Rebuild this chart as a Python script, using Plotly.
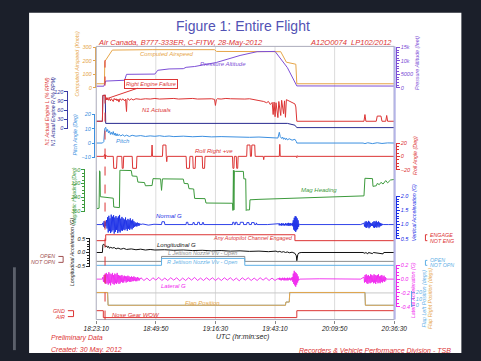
import plotly.graph_objects as go

W, H = 481, 361
FONT = "Liberation Sans, Arial, sans-serif"

# ------------------------------------------------------------------ data
# time axis: seconds elapsed after 18:23:10 UTC
tick_seconds = [0, 1600, 3200, 4800, 6400, 8000]
tick_labels = ["18:23:10", "18:49:50", "19:16:30", "19:43:10", "20:09:50", "20:36:30"]
engine_failure_s = 236

# computed airspeed (knots)
cas_t = [0, 220, 229, 254, 432, 1500, 3175, 3230, 4953, 5105, 5359, 5385, 8000]
cas_kt = [30, 30, 195, 205, 280, 283, 283, 270, 268, 190, 175, 30, 30]

# pressure altitude (feet)
alt_t = [0, 203, 229, 254, 762, 813, 1575, 1651, 1956, 2337, 2413, 2642, 3226, 3861, 4318, 4801, 5131, 5385, 8000]
alt_ft = [600, 600, 1500, 2500, 2800, 5000, 5100, 6500, 7000, 7100, 7600, 7900, 9400, 12000, 13400, 13500, 7500, 700, 650]

# N1, left engine (% RPM)
n1l_t = [0, 165, 178, 241, 254, 279, 305, 330, 356, 381, 406, 432, 457, 483, 508, 533, 559, 584, 610, 635,
         686, 711, 762, 787, 800, 813, 826, 850, 889, 940, 990, 1067, 1194, 1321, 1448, 1575, 1702, 1829,
         1956, 2083, 2210, 2337, 2464, 2591, 2718, 2845, 2972, 3099, 3175, 3200, 3226, 3251, 3353, 3480,
         3607, 3734, 3861, 3988, 4115, 4242, 4369, 4496, 4572, 4623, 4674, 4724, 4750, 4775, 4801, 4826,
         4877, 4902, 4953, 4978, 5029, 5055, 5080, 5105, 5182, 5258, 5334, 5359, 5385, 7188, 7214, 7239,
         7518, 7544, 7645, 7671, 7772, 7798, 7823, 8000]
n1l_pct = [23, 23, 108, 108, 100, 94, 99, 92, 98, 90, 97, 94, 88, 98, 93, 97, 90, 96, 86, 97,
           92, 97, 90, 96, 62, 55, 94, 98, 92, 97, 93, 97, 95, 97, 96, 98, 96, 97,
           96, 98, 96, 97, 96, 98, 96, 97, 96, 97, 95, 75, 94, 97, 96, 98,
           97, 96, 97, 96, 97, 95, 91, 88, 84, 88, 78, 85, 45, 86, 38, 84,
           35, 88, 42, 92, 48, 90, 36, 94, 90, 86, 80, 70, 23, 23, 45, 23,
           23, 40, 40, 23, 23, 42, 23, 23]

# N1, right engine (% RPM)
n1r_t = [0, 165, 178, 241, 254, 5131, 5334, 5385, 8000]
n1r_pct = [23, 23, 108, 108, 16, 16, 10, 2, 2]

# pitch angle (deg)
pitch_t = [0, 165, 203, 229, 254, 279, 305, 330, 356, 381, 406, 432, 457, 483, 508, 533, 559, 584, 610, 660,
           711, 762, 813, 889, 965, 1067, 1194, 1321, 1448, 1575, 1702, 1829, 1956, 2083, 2337, 2591, 2845,
           3099, 3353, 3607, 3861, 4115, 4369, 4623, 4826, 4877, 4915, 4940, 4978, 5004, 5029, 5055, 5080,
           5105, 5131, 5182, 5258, 5334, 5372, 5385, 7163, 7214, 7290, 7417, 7544, 7671, 7823, 8000]
pitch_deg = [0, 0, 1, 10, 11, 8, 9.5, 7, 8.5, 6, 7.5, 6, 8, 5.5, 7, 5, 6.5, 5, 6, 5,
             5.8, 4.8, 5.5, 4.6, 5.4, 4.8, 5.2, 4.6, 5, 4.7, 5.1, 4.6, 4.9, 4.5, 4.8, 4.4, 4.7,
             4.3, 4.5, 4.2, 4.4, 4.0, 4.2, 3.8, 4.0, 3.5, 7.5, 4.5, 3.2, 4.2, 2.6, 3.6, 2.4,
             3.4, 2.2, 3.0, 2.0, 2.6, 1.0, 0, 0, -0.4, 0.2, -0.4, 0.2, -0.3, 0.1, 0]

# roll angle (deg, right wing down positive)
roll_t = [0, 203, 229, 241, 254, 279,
          457, 470, 545, 559, 686, 698, 724, 737, 965, 978, 1080, 1092,
          1486, 1499, 1511, 1778, 1790, 1870, 1880, 1893, 1905,
          2413, 2425, 2502, 2515, 2591, 2603, 2655, 2667, 2845, 2857, 2908, 2921,
          3658, 3670, 3696, 3709, 3760, 3772, 3797, 3810,
          4039, 4051, 4128, 4140, 4166, 4178, 4255, 4267,
          4483, 4496, 4509, 4915, 4928, 4940, 5372, 5385, 5397, 5410, 8000]
roll_deg = [0, 0, 3, -4, 2, 0,
            0, -18, -18, 0, 0, -18, -18, 0, 0, -18, -18, 0,
            0, 17, 0, 0, 17, 17, 0, -8, 0,
            0, -18, -18, 0, 0, -18, -18, 0, 0, -18, -18, 0,
            0, -18, -18, 0, 0, -18, -18, 0,
            0, 17, 17, 0, 0, 17, 17, 0,
            0, -5, 0, 0, 18, 0, 0, -2, 1, 0, 0]

# magnetic heading (deg)
hdg_t = [0, 13, 76, 89, 102, 109, 203, 229, 457, 470, 622, 635, 940, 965, 1092, 1118, 1295, 1321, 1499,
         1524, 1727, 1753, 1778, 2337, 2362, 2464, 2489, 2616, 2642, 2921, 2946, 3658, 3670, 3683, 3696,
         3709, 3734, 3950, 3962, 4013, 4026, 4039, 4115, 4128, 4369, 4623, 5004, 5385, 6147, 6909, 7188,
         7214, 7417, 7430, 7518, 7544, 7600, 7645, 7700, 7772, 7823, 7900, 8000]
hdg_deg = [15, 340, 335, 10, 20, 235, 238, 245, 248, 325, 330, 5, 8, 55, 58, 108, 112, 140, 138,
           78, 80, 180, 80, 82, 120, 122, 165, 168, 250, 252, 290, 292, 355, 5, 350,
           10, 15, 15, 80, 80, 355, 350, 350, 262, 258, 255, 250, 245, 240, 232, 228,
           75, 78, 145, 140, 120, 130, 110, 125, 95, 115, 90, 85]

# normal (vertical) acceleration, G
ng_t = [0, 100, 165, 1250, 1400, 1550, 1700, 1753, 1765, 1830, 1842, 2100, 2413, 2420, 2460, 2466, 2591,
        2597, 2630, 2636, 2718, 2724, 2770, 2776, 2845, 2851, 2880, 2886, 3300, 3658, 3664, 3700, 3706,
        3734, 3740, 3780, 3786, 3861, 3867, 3950, 3956, 4039, 4045, 4100, 4106, 4166, 4172, 4240, 4246,
        4293, 4299, 4320, 4600, 4850, 5470, 6000, 7100, 7850, 8000]
ng_g = [1.0, 1.01, 1.0, 1.02, 0.98, 1.01, 1.0, 1.0, 1.1, 1.1, 1.0, 1.0, 1.0, 1.08, 1.08, 1.0, 1.0,
        1.07, 1.07, 1.0, 1.0, 1.08, 1.08, 1.0, 1.0, 1.07, 1.07, 1.0, 1.0, 1.0, 1.08, 1.08, 1.0,
        1.0, 1.08, 1.08, 1.0, 1.0, 1.08, 1.08, 1.0, 1.0, 1.07, 1.07, 1.0, 1.0, 1.07, 1.07, 1.0,
        1.0, 1.06, 1.0, 1.0, 1.01, 1.0, 1.0, 1.0, 1.0, 1.0]
# recorded bursts: (first sample time, sample interval, samples)
ng_bursts = [
    (178, 16, [1.06, 0.93, 1.12, 0.88, 1.10, 0.94, 1.16, 0.86,
               1.26, 0.72, 1.31, 0.77, 1.22, 0.70, 1.35, 0.75, 1.28, 0.80, 1.33, 0.68, 1.25, 0.74, 1.30,
               0.81, 1.24, 0.70, 1.29, 0.76, 1.34, 0.72, 1.21, 0.79, 1.27,
               0.78, 1.22, 0.82, 1.18, 0.80, 1.25, 0.84, 1.15, 0.78, 1.20, 0.85, 1.17, 0.81, 1.22, 0.86,
               1.14, 0.83, 1.18, 0.88, 1.12,
               0.92, 1.08, 0.94, 1.06, 0.93, 1.07, 0.95, 1.05, 0.96, 1.04, 1.00]),
    (4900, 13, [1.03, 0.97, 1.04, 0.98, 1.02, 0.96, 1.05, 0.97, 1.03, 0.98, 1.04, 0.96, 1.02, 0.97,
                1.05, 0.98, 1.03, 0.96, 1.04, 0.97, 1.06, 0.95, 1.04, 0.97, 1.05, 0.96, 1.03, 0.98,
                1.06, 0.94, 1.15, 0.82, 1.24, 0.78, 1.30, 0.74, 1.28, 0.80, 1.22, 0.84, 1.15, 0.92, 1.02]),
    (7188, 15, [1.05, 0.93, 1.10, 0.90, 1.12, 0.88, 1.08, 0.92, 1.13, 0.87, 1.10, 0.91, 1.06, 0.95,
                1.04, 0.95, 1.09, 0.90, 1.12, 0.88, 1.10, 0.91, 1.13, 0.89, 1.08, 0.93, 1.11, 0.90,
                1.07, 0.94, 1.05, 0.96, 1.03, 0.98, 1.02, 1.0]),
]

# autopilot engaged (1 = ENGAGE)
ap_t = [0, 254, 5334, 8000]
ap_state = [0, 1, 0, 0]

# longitudinal acceleration, G
lon_t = [0, 165, 178, 203, 229, 254, 279, 305, 330, 356, 381, 432, 483, 533, 584, 660, 737, 813, 940,
         1067, 1194, 1321, 1448, 1575, 1829, 2083, 2337, 2591, 2845, 3099, 3353, 3607, 3861, 4115, 4369,
         4623, 4826, 4877, 4928, 4978, 5029, 5080, 5131, 5182, 5258, 5334, 5372, 5385, 5397, 5410, 5436,
         5500, 6000, 7163, 7214, 7239, 7290, 7310, 7417, 7440, 7700, 7720, 8000]
lon_g = [0.0, 0.0, 0.28, 0.3, 0.26, 0.2, 0.24, 0.18, 0.22, 0.15, 0.19, 0.16, 0.18, 0.13, 0.16, 0.12,
         0.15, 0.11, 0.13, 0.1, 0.12, 0.09, 0.11, 0.09, 0.1, 0.08, 0.09, 0.07, 0.08, 0.06, 0.07, 0.05,
         0.06, 0.04, 0.05, 0.03, 0.05, 0.02, 0.04, 0.01, 0.03, 0.0, 0.02, -0.01, 0.01, -0.03, -0.12,
         -0.3, -0.2, -0.08, -0.02, 0.0, 0.0, 0.0, -0.03, 0.0, -0.05, 0.0, -0.04, 0.0, -0.05, 0.0, 0.0]

# fuel jettison nozzle valves (1 = OPEN)
jett_t = [0, 1753, 3988, 8000]
jett_l = [0, 1, 0, 0]
jett_r = [0, 1, 0, 0]

# lateral acceleration, G
lat_t = [0, 100, 165, 4850, 5460, 6000, 7100, 7830, 8000]
lat_g = [0.0, 0.005, 0.0, 0.0, 0.0, 0.005, 0.0, 0.0, 0.0]
lat_bursts = [
    (178, 16, [0.03, -0.04, 0.06, -0.05, 0.08, -0.07, 0.09, -0.06, 0.07, -0.08, 0.10, -0.06, 0.08, -0.09,
               0.07, -0.05, 0.09, -0.07, 0.06, -0.08, 0.08, -0.06, 0.07, -0.07, 0.09, -0.05, 0.06, -0.07,
               0.05, -0.06, 0.05, -0.04, 0.06, -0.05, 0.04, -0.05, 0.05, -0.03, 0.04, -0.05, 0.04, -0.04,
               0.05, -0.03, 0.04, -0.04, 0.03, -0.04, 0.04, -0.03, 0.03, -0.03, 0.04, -0.02, 0.03, -0.03,
               0.02, -0.03, 0.03, -0.02, 0.02, -0.02, 0.01, 0.0]),
    (1200, 80, [0.02, -0.02, 0.015, -0.025, 0.02, -0.015, 0.025, -0.02, 0.015, -0.02, 0.02, -0.015, 0.02,
                -0.025, 0.015, -0.02, 0.02, -0.015, 0.025, -0.02, 0.015, -0.02, 0.02, -0.015, 0.02, -0.02,
                0.015, -0.02, 0.02, -0.015, 0.02, -0.02, 0.015, -0.025, 0.02, -0.015, 0.02, -0.02, 0.015,
                -0.02, 0.02, -0.015, 0.02, -0.02, 0.015, -0.02]),
    (4900, 13, [0.01, -0.01, 0.02, -0.01, 0.01, -0.02, 0.01, -0.01, 0.02, -0.01, 0.01, -0.02, 0.02, -0.01,
                0.01, -0.02, 0.01, -0.01, 0.02, -0.02, 0.01, -0.01, 0.02, -0.01, 0.01, -0.02, 0.02, -0.01,
                0.03, -0.04, 0.08, -0.07, 0.12, -0.09, 0.10, -0.11, 0.09, -0.08, 0.07, -0.05, 0.04, -0.02, 0.0]),
    (7188, 15, [0.03, -0.05, 0.06, -0.04, 0.07, -0.06, 0.05, -0.07, 0.06, -0.05, 0.04, -0.06, 0.07, -0.05,
                0.06, -0.04, 0.05, -0.06, 0.07, -0.05, 0.06, -0.07, 0.05, -0.04, 0.06, -0.06, 0.07, -0.05,
                0.04, -0.06, 0.05, -0.04, 0.06, -0.05, 0.04, -0.03, 0.05, -0.04, 0.03, -0.02, 0.01, 0.0]),
]

# flap positions (deg)
flap_t = [0, 305, 318, 5080, 5093, 5182, 5195, 7214, 7226, 8000]
flap_deg = [20, 20, 0, 0, 5, 5, 20, 20, 0, 0]

# nose gear weight-on-wheels (1 = GND)
wow_t = [0, 190, 5385, 8000]
wow_state = [1, 0, 1, 1]

# ------------------------------------------------------------------ colours
C_CAS = "#e6a548"
C_ALT = "#7d4fd6"
C_RED = "#dc3434"
C_N1R = "#26288f"
C_PITCH = "#3b8fe0"
C_HDG = "#3c9a3c"
C_NG = "#1a2ee6"
C_GRAY = "#8c8c8c"
C_LTBLUE = "#5fb0e6"
C_LAT = "#f028ee"
C_TITLE = "#5252b4"


def merge(points, bursts):
    """Combine sparse points with fixed-rate recorded bursts, in time order."""
    pts = list(zip(*points))
    for start, dt, samples in bursts:
        pts += [(start + i * dt, v) for i, v in enumerate(samples)]
    pts.sort()
    return [p[0] for p in pts], [p[1] for p in pts]


ng_x, ng_y = merge((ng_t, ng_g), ng_bursts)
lat_x, lat_y = merge((lat_t, lat_g), lat_bursts)


def yaxis(v_a, y_a, v_b, y_b, top, bottom, pos=None, side="left", color="#000",
          tickvals=None, ticktext=None, minor_dtick=None):
    """Linear axis whose value v_a sits at pixel row y_a and v_b at y_b."""
    s = (v_b - v_a) / (y_b - y_a)
    a = dict(domain=[1 - bottom / H, 1 - top / H],
             range=[v_a + (bottom - y_a) * s, v_a + (top - y_a) * s],
             autorange=False, fixedrange=True, showgrid=False, zeroline=False)
    if pos is None:
        a["visible"] = False
        return a
    a.update(anchor="free", position=pos / W, side=side, showline=True, linecolor=color,
             linewidth=1, ticks="outside", ticklen=2.5, tickwidth=1, tickcolor=color,
             tickvals=tickvals, ticktext=ticktext,
             tickfont=dict(family=FONT, size=5.5, color=color, style="italic"))
    if minor_dtick:
        a["minor"] = dict(ticks="outside", ticklen=1.5, tickcolor=color, dtick=minor_dtick,
                          showgrid=False)
    return a


axes = {
    "yaxis": yaxis(0, 86, 300, 45, 44.5, 86.5, 87, "left", C_CAS, [0, 100, 200, 300]),
    "yaxis2": yaxis(0, 86, 15000, 45, 44.5, 86.5, 405, "right", C_ALT,
                    [0, 5000, 10000, 15000], None, 1000),
    "yaxis3": yaxis(0, 127, 120, 90, 89.5, 127.5, 57, "left", "#3a3aa6", [0, 30, 60, 90, 120]),
    "yaxis4": yaxis(20, 113, 0, 142, 112.5, 157, 86, "left", C_PITCH, [-10, 0, 10, 20]),
    "yaxis5": yaxis(20, 142, -20, 169, 141.5, 169.5, 405, "right", C_RED, [-20, 0, 20], None, 5),
    "yaxis6": yaxis(0, 169, 360, 211, 168.5, 211.5, 75, "left", C_HDG, [0, 120, 240, 360], None, 30),
    "yaxis7": yaxis(2.0, 196, 0.5, 239, 195.5, 239.5, 405, "right", C_NG,
                    [0.5, 1.0, 1.5, 2.0], ["0.5", "1.0", "1.5", "2.0"], 0.1),
    "yaxis8": yaxis(1, 235, 0, 241, 231, 245),
    "yaxis9": yaxis(0.5, 239, -0.5, 267, 238.5, 267.5, 80, "left", "#222222",
                    [-0.5, 0, 0.5], ["-0.5", "0.0", "0.5"], 0.1),
    "yaxis10": yaxis(1, 257, 0, 262, 253, 266),
    "yaxis11": yaxis(1, 259, 0, 266, 255, 270),
    "yaxis12": yaxis(0.2, 266, -0.4, 308, 265.5, 308.5, 405, "right", C_LAT,
                     [-0.4, -0.2, 0, 0.2], ["-0.4", "-0.2", "0.0", "0.2"], 0.05),
    "yaxis13": yaxis(20, 293.5, 0, 306.5, 292.5, 308.5, 421, "right", C_LTBLUE, [0, 10, 20]),
    "yaxis14": yaxis(1, 312, 0, 319, 308, 322),
}


def line(x, y, ax, color, width=1.0, shape="linear"):
    return go.Scatter(x=x, y=y, yaxis=ax, xaxis="x", mode="lines", hoverinfo="skip",
                      line=dict(color=color, width=width, shape=shape))


traces = [
    line(cas_t, cas_kt, "y", C_CAS),
    line(alt_t, alt_ft, "y2", C_ALT),
    line(n1r_t, n1r_pct, "y3", C_N1R),
    line(n1l_t, n1l_pct, "y3", C_RED),
    line(pitch_t, pitch_deg, "y4", C_PITCH),
    line(roll_t, roll_deg, "y5", C_RED),
    line(hdg_t, hdg_deg, "y6", C_HDG),
    line(ng_x, ng_y, "y7", C_NG, 0.9),
    line(ap_t, ap_state, "y8", C_RED, 1, "hv"),
    line(lon_t, lon_g, "y9", "#111111"),
    line(jett_t, jett_l, "y10", C_GRAY, 1, "hv"),
    line(jett_t, jett_r, "y11", C_LTBLUE, 1, "hv"),
    line(lat_x, lat_y, "y12", C_LAT, 0.9),
    line(flap_t, flap_deg, "y13", C_LTBLUE),
    line(flap_t, flap_deg, "y13", C_CAS),
    line(wow_t, wow_state, "y14", C_RED, 1, "hv"),
]

fig = go.Figure(traces)


def P(px, py):
    return px / W, 1 - py / H


def text(s, px, py, color, size=6.0, xanchor="center", angle=0, style="italic"):
    x, y = P(px, py)
    return dict(text=s, x=x, y=y, xref="paper", yref="paper", showarrow=False,
                xanchor=xanchor, yanchor="middle", textangle=angle,
                font=dict(family=FONT, size=size, color=color, style=style))


annotations = [
    text("Figure 1: Entire Flight", 243, 23, C_TITLE, 14, style="normal"),
    text("Air Canada, B777-333ER, C-FITW, 28-May-2012", 88, 40, C_RED, 7.5, "left"),
    text("A12O0074  LP102/2012", 403, 40, C_RED, 7.5, "right"),
    # series labels
    text("Computed Airspeed", 162, 52, C_CAS),
    text("Pressure Altitude", 222, 62, C_ALT),
    text("N1 Actuals", 152, 108, C_RED),
    text("Pitch", 116, 140, C_PITCH),
    text("Roll Right +ve", 212, 150, C_RED),
    text("Mag Heading", 323, 190, C_HDG),
    text("Normal G", 165, 216, C_NG),
    text("Any Autopilot Channel Engaged", 254, 238, C_RED, 5.5),
    text("Longitudinal G", 173, 245, "#111111"),
    text("L Jettison Nozzle Vlv - Open", 200, 254, C_GRAY, 5.5),
    text("R Jettison Nozzle Vlv - Open", 200, 263, C_LTBLUE, 5.5),
    text("Lateral G", 170, 287, C_LAT),
    text("Flap Position", 200, 304, C_CAS),
    text("Nose Gear WOW", 130, 316, C_RED),
    # axis titles
    text("Computed Airspeed (Knots)", 68, 62, C_CAS, 5.3, angle=-90),
    text("N1 Actual Engine L (% RPM)", 36, 110, C_RED, 5.3, angle=-90),
    text("N1 Actual Engine R (% RPM)", 43, 110, C_N1R, 5.3, angle=-90),
    text("Pitch Angle (Deg)", 66, 133, C_PITCH, 5.3, angle=-90),
    text("Magnetic Heading (Deg)", 65, 195, C_HDG, 5.3, angle=-90),
    text("Longitudinal Acceleration (G)", 63, 253, "#222222", 5.3, angle=-90),
    text("Pressure Altitude (feet)", 427, 61, C_ALT, 5.3, angle=-90),
    text("Roll Angle (Deg)", 425, 155, C_RED, 5.3, angle=-90),
    text("Vertical Acceleration (G)", 424, 213, C_NG, 5.3, angle=-90),
    text("Lateral Acceleration (G)", 423, 291, C_LAT, 5.3, angle=-90),
    text("Flap Left Position (degs)", 434, 300, C_LTBLUE, 5.3, angle=-90),
    text("Flap Right Position (degs)", 441, 300, C_CAS, 5.3, angle=-90),
    # discrete state labels
    text("ENGAGE", 439, 235, C_RED, 5.3, "left"),
    text("NOT ENG", 439, 241, C_RED, 5.3, "left"),
    text("OPEN", 439, 261, C_LTBLUE, 5.3, "left"),
    text("NOT OPN", 439, 266, C_LTBLUE, 5.3, "left"),
    text("OPEN", 47, 257, "#a05050", 5.3, "right"),
    text("NOT OPN", 47, 263, "#a05050", 5.3, "right"),
    text("GND", 57, 312, C_RED, 5.3, "right"),
    text("AIR", 57, 318, C_RED, 5.3, "right"),
    # footer
    text("UTC (hr:min:sec)", 243, 339, "#222222", 7),
    text("Preliminary Data", 38, 340, C_RED, 7, "left"),
    text("Created: 30 May. 2012", 38, 352, C_RED, 7, "left"),
    text("Recorders & Vehicle Performance Division - TSB", 465, 352, C_RED, 7, "right"),
]

# call-out for the engine failure, attached to the N1 trace
annotations.append(dict(
    text="Right Engine Failure", x=279, y=97, xref="x", yref="y3",
    ax=44, ay=-15, showarrow=True, arrowhead=7, arrowsize=0.6, arrowwidth=1,
    arrowcolor=C_RED, bordercolor=C_RED, borderwidth=1, borderpad=1, bgcolor="#ffffff",
    font=dict(family=FONT, size=5.5, color=C_RED, style="italic")))


def rect(x0, y0, x1, y1, fill=None, color=None, width=0):
    a, b = P(x0, y1)
    c, d = P(x1, y0)
    return dict(type="rect", xref="paper", yref="paper", x0=a, y0=b, x1=c, y1=d,
                fillcolor=fill, line=dict(color=color, width=width), layer="below")


def bracket(x_vert, x_tip, y_top, y_bot, color):
    xv, yt = P(x_vert, y_top)
    xt, yb = P(x_tip, y_bot)
    path = f"M {xt},{yt} L {xv},{yt} L {xv},{yb} L {xt},{yb}"
    return dict(type="path", xref="paper", yref="paper", path=path,
                line=dict(color=color, width=1))


shapes = [
    rect(17, 10, 474, 355, fill="#ffffff"),
    rect(0, 268, 3, 352, fill="#5c606b"),
]
for t in tick_seconds[1:-1]:
    shapes.append(dict(type="line", xref="x", yref="paper", x0=t, x1=t,
                       y0=1 - 321 / H, y1=1 - 44 / H,
                       line=dict(color="#dcdcdc", width=1), layer="below"))
x0, y0 = P(88, 294)
x1, _ = P(403, 294)
shapes.append(dict(type="line", xref="paper", yref="paper", x0=x0, x1=x1, y0=y0, y1=y0,
                   line=dict(color="#c8c8c8", width=1), layer="below"))
shapes.append(rect(88, 44, 403, 321, color="#ababbb", width=1))
shapes[-1]["layer"] = "above"
xr, yt = P(403.5, 44)
_, yb = P(403.5, 321)
shapes.append(dict(type="line", xref="paper", yref="paper", x0=xr, x1=xr, y0=yb, y1=yt,
                   line=dict(color="#b4b4e6", width=2)))
shapes.append(dict(type="line", xref="x", yref="paper", x0=engine_failure_s, x1=engine_failure_s,
                   y0=1 - 321 / H, y1=1 - 58 / H, line=dict(color=C_RED, width=1, dash="dash")))
shapes += [
    bracket(436, 438, 235, 241, C_RED),
    bracket(436, 438, 261, 266, C_LTBLUE),
    bracket(53, 48, 257, 263, "#a05050"),
    bracket(64, 58, 312, 318, C_RED),
]

fig.update_layout(
    width=W, height=H, autosize=False,
    margin=dict(l=0, r=0, t=0, b=0, pad=0),
    paper_bgcolor="#1b1f2a", plot_bgcolor="rgba(0,0,0,0)",
    showlegend=False, hovermode=False,
    font=dict(family=FONT),
    xaxis=dict(domain=[88 / W, 403 / W], range=[0, 8000], autorange=False, fixedrange=True,
               anchor="free", position=(H - 321) / H,
               tickvals=tick_seconds, ticktext=tick_labels,
               ticks="outside", ticklen=3, tickcolor="#888888",
               tickfont=dict(family=FONT, size=6.5, color="#222222", style="italic"),
               showgrid=False, zeroline=False, showline=False),
    annotations=annotations,
    shapes=shapes,
    **axes,
)

fig.write_html("out.html")
